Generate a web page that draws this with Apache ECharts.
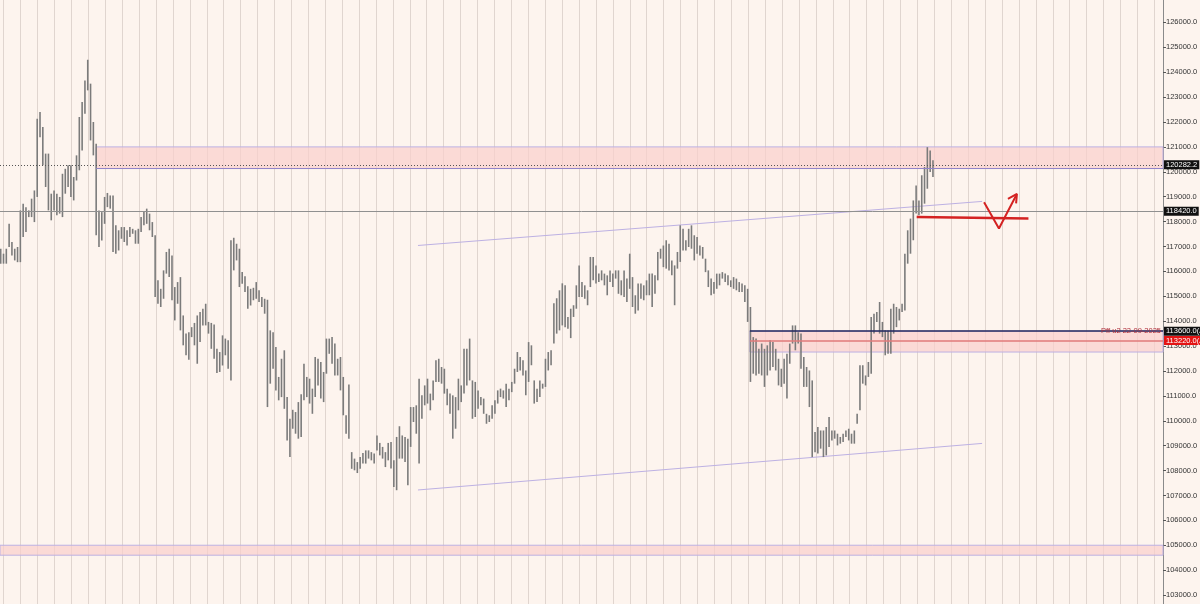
<!DOCTYPE html>
<html><head><meta charset="utf-8">
<script src="https://cdn.jsdelivr.net/npm/echarts@6/dist/echarts.min.js"></script>
<style>html,body{margin:0;padding:0;background:#fdf4ee;}#c{width:1200px;height:604px;}</style>
</head><body><div id="c"></div>
<script>
// ---- data (4h bars, high / low) ----
const HIGH = [
116910,116710,116910,117910,117180,116910,116980,118450,118720,118580,
118450,118920,119250,122130,122400,121800,120730,120730,119120,119250,
119120,118990,119920,120120,120260,120260,119790,120660,122200,122800,
123670,124500,123540,122000,121130,118450,118380,118990,119150,119050,
119050,117850,117650,117780,117780,117650,117780,117710,117650,117710,
118180,118380,118520,118320,117980,117450,115640,115300,116040,116780,
116910,116640,115370,115570,115770,114230,
113500,113560,113760,113930,114230,114370,114500,114700,113970,113930,
113870,112890,112760,113430,113300,113230,117250,117350,117110,116910,
115970,115800,115400,115300,115340,115570,115240,114970,114900,114860,
113630,113560,112960,111760,112490,112830,110950,110080,110440,110350,
110750,111060,112290,111760,111690,111290,112560,112490,112360,111960,
113300,113300,113360,113100,112490,112560,111760,110220,111460,108740,
108480,108340,108540,108700,108810,108810,108740,108680,109410,109110,
108950,108740,
109110,109150,108410,109350,109780,109410,109350,109280,110550,110550,
110620,111690,111020,111420,111690,111090,111620,112430,112490,112160,
112090,111290,111090,111020,110950,111690,111420,112890,112890,113300,
111620,111560,111220,110950,110890,110280,110220,110620,110820,111220,
111290,111220,111490,111290,111560,112090,112760,112560,112430,112020,
113160,113030,111620,111290,111620,111490,112490,112760,112830,114720,
114920,115240,115520,115440,
114170,114500,114640,115440,116240,115570,115440,115240,116580,116580,
116240,115910,116040,115910,115840,116040,115910,116040,116040,115640,
116040,115710,116710,115770,115040,115510,115510,115440,115640,115910,
115910,115840,116780,116910,117040,117250,117110,116440,116240,116780,
117850,117710,117250,117710,117850,117450,117380,117040,116980,116510,
116040,115710,115570,115910,115910,115970,115910,115840,115640,115770,
115710,115570,115510,115440,115300,
114570,113360,113300,112890,113100,112890,113030,113230,113160,112890,
112490,112090,112490,112690,113100,113830,113830,113560,113500,112560,
112160,112020,111620,109550,109750,109610,109610,109750,110150,109610,
109610,109480,109350,109480,109610,109680,109480,109610,110280,112230,
112230,111820,112360,114170,114300,114370,114770,113970,113630,113630,
114500,114700,114570,114500,114700,116710,117650,118120,118850,119450,
118850,119860,120190,120990,120860,120460
];
const LOW = [
116310,116310,116310,116980,116640,116440,116370,116370,117380,117580,
118180,118180,117980,118990,121390,120260,119390,118450,118050,118450,
118250,118320,118180,119120,119390,118990,118850,119650,120060,120860,
122330,123270,121260,120660,117450,116980,117240,117910,118580,118520,
116780,116710,116840,117310,117180,117040,117380,117510,117110,117110,
117580,117850,117910,117650,117380,114970,114700,114570,114900,115910,
115770,114840,114030,114700,113630,113030,
112630,112450,113360,113030,112290,113160,113830,113830,113500,112890,
112490,111920,111960,112220,112630,112090,111620,116040,116440,115370,
115500,115170,114500,114630,114840,114900,114770,114570,114300,110550,
111490,112090,111220,110820,110950,110480,109210,108540,109680,109480,
109280,109350,110820,110950,110690,110280,110950,111420,110890,110750,
111890,112690,112290,111820,111820,111220,110220,109480,109280,108070,
108010,107900,108070,108280,108280,108480,108410,108280,108810,108610,
108480,108140,
108410,108080,107340,107210,108480,108480,108340,107410,108950,109950,
109480,108280,110080,110620,110690,110420,110820,111560,111560,111490,
111090,110620,110280,109280,109680,110420,110750,111090,111420,111620,
110080,110150,110480,110620,110280,109880,109950,110080,110280,110690,
110950,110890,110550,110820,111150,111490,111960,112020,111820,111020,
111560,112230,110690,110750,110950,111290,111360,112020,112230,113100,
113500,113630,113830,113760,
113700,113320,114170,114500,114970,114970,114900,114640,115370,115640,
115510,115570,115640,115440,115040,115570,115370,115710,115100,115040,
114970,114770,115300,114570,114300,114430,114900,114840,115040,115040,
114570,115100,115640,116510,116170,116110,116040,115840,114640,116110,
116380,116840,116840,116980,116910,116440,116710,116640,116510,115970,
115370,115040,115100,115300,115440,115710,115570,115440,115370,115300,
115240,115170,115170,114770,113970,
111560,111890,111820,111890,111820,111360,111820,112020,112160,112020,
111420,111360,111490,110890,112290,113100,112830,113100,112090,111360,
111360,110550,108540,108740,108680,108880,108540,108610,108950,109210,
109280,109010,109080,109150,109350,109210,109080,109080,109880,110420,
111490,111420,111760,111890,113500,113970,113500,113360,112630,112690,
112690,113500,113760,114030,114370,114430,116310,116710,117250,118320,
118250,118320,118720,119320,119990,119790
];
// price levels
const LAST_PRICE = 120282.2;
const LEVEL_GRAY = 118420.0;
const LEVEL_A1 = 113600.0, LEVEL_A2 = 113220.0;
const ZONE_TOP = [121000, 120130];
const ZONE_MID = [113600, 112760];
const ZONE_LOW = [105000, 104600];
const ZONE_TOP_START = 34, ZONE_MID_START = 266.8;
const MID_NOTE = 'Pff u2 22-09-2025';
// drawn lines [barIndex, price]
const TREND_UP = [[148.6,117040],[349.5,118810]];
const TREND_DN = [[148.6,107220],[349.5,109090]];
const RED_LEVEL = [[326.2,118180],[366.0,118120]];
const RED_V = [[350.2,118780],[355.5,117720],[361.6,119050]];
const RED_HEAD = [[358.7,118910],[361.9,119110],[361.6,118730]];
const Y_TICK_VALUES = [103000,104000,105000,106000,107000,108000,109000,110000,111000,112000,
  113000,114000,115000,116000,117000,118000,119000,120000,121000,122000,123000,124000,125000,126000];
const DAY_LINES = [];
for (let d = -2; d <= 66; d++) DAY_LINES.push(d);

// ---- axes extents ----
const Y_MIN = 102640, Y_MAX = 126900;
const X_MIN = -0.249, X_MAX = 413.92;
const D_MIN = -2.2045, D_MAX = 66.53;

const bars = HIGH.map((h,i)=>[i,h,LOW[i]]);
const chart = echarts.init(document.getElementById('c'));
const boxLabel = (txt,bg)=>({show:true,position:'end',distance:1,formatter:txt,
  backgroundColor:bg,color:'#fff',fontSize:7.5,fontFamily:'Liberation Sans',padding:[1,2,0,2]});
const lavender = '#bdb1e3';
const hiddenAxis = {show:false,splitLine:{show:false},axisLine:{show:false},axisTick:{show:false},axisLabel:{show:false}};
chart.setOption({
  backgroundColor:'#fdf4ee',
  animation:false,
  grid:{left:0,right:37,top:0,bottom:0,outerBoundsMode:'none',containLabel:false},
  xAxis:[
    Object.assign({type:'value',min:X_MIN,max:X_MAX},hiddenAxis),
    Object.assign({type:'value',min:D_MIN,max:D_MAX},hiddenAxis)
  ],
  yAxis:{type:'value',position:'right',min:Y_MIN,max:Y_MAX,
    splitLine:{show:false},
    axisLine:{show:true,onZero:false,lineStyle:{color:'#8a8a8a',width:1}},
    axisTick:{show:true,length:3,customValues:Y_TICK_VALUES,lineStyle:{color:'#555'}},
    axisLabel:{customValues:Y_TICK_VALUES,formatter:v=>v.toFixed(1),fontSize:7.5,color:'#333',margin:3,fontFamily:'Liberation Sans'}},
  series:[
    {type:'custom',xAxisIndex:1,data:DAY_LINES.map(d=>[d]),encode:{x:0},silent:true,z:0,
     renderItem:(params,api)=>{
       const a=api.coord([api.value(0),Y_MAX]), b=api.coord([api.value(0),Y_MIN]);
       const x=Math.round(a[0])+0.5;
       return {type:'line',shape:{x1:x,y1:a[1],x2:x,y2:b[1]},style:{stroke:'#e0d5cf',lineWidth:1}};
     }},
    {type:'line',data:TREND_DN,symbol:'none',z:1,silent:true,
     lineStyle:{color:lavender,width:1},
     markArea:{silent:true,itemStyle:{color:'rgba(250,206,204,0.7)',borderColor:lavender,borderWidth:1},
       data:[
         [{coord:[ZONE_TOP_START,ZONE_TOP[0]]},{coord:[X_MAX,ZONE_TOP[1]]}],
         [{coord:[ZONE_MID_START,ZONE_MID[0]]},{coord:[X_MAX,ZONE_MID[1]]}],
         [{coord:[X_MIN,ZONE_LOW[0]]},{coord:[X_MAX,ZONE_LOW[1]]}]
       ]}},
    {type:'line',data:TREND_UP,symbol:'none',z:1,silent:true,lineStyle:{color:lavender,width:1}},
    {type:'custom',z:3,silent:true,data:bars,encode:{x:0,y:[1,2]},
     renderItem:(params,api)=>{
       const a=api.coord([api.value(0),api.value(1)]), b=api.coord([api.value(0),api.value(2)]);
       return {type:'line',shape:{x1:a[0],y1:a[1],x2:b[0],y2:b[1]},style:{stroke:'#7b7b7b',lineWidth:1.6}};
     },
     markLine:{silent:true,symbol:'none',animation:false,
       data:[
         [{coord:[ZONE_TOP_START,ZONE_TOP[1]],lineStyle:{color:'#9284c9',width:1,type:'solid'},label:{show:false}},{coord:[X_MAX,ZONE_TOP[1]]}],
         {yAxis:LAST_PRICE,lineStyle:{color:'#555',width:1,type:[1,2]},label:boxLabel(LAST_PRICE.toFixed(1),'#111')},
         {yAxis:LEVEL_GRAY,lineStyle:{color:'#909090',width:1,type:'solid'},label:boxLabel(LEVEL_GRAY.toFixed(1),'#111')},
         [{coord:[ZONE_MID_START,LEVEL_A2],lineStyle:{color:'#e07a7a',width:1.5,type:'solid'},label:boxLabel(LEVEL_A2.toFixed(1)+'(A)','#e41414')},{coord:[X_MAX,LEVEL_A2]}],
         [{coord:[ZONE_MID_START,LEVEL_A1],lineStyle:{color:'#23285c',width:1.5,type:'solid'},label:boxLabel(LEVEL_A1.toFixed(1)+'(A)','#111')},{coord:[X_MAX,LEVEL_A1]}],
         [{coord:[ZONE_MID_START,LEVEL_A1],lineStyle:{color:'rgba(0,0,0,0)',width:0},label:{show:true,position:'insideEnd',formatter:MID_NOTE,color:'#b0303c',fontSize:7.5,fontFamily:'Liberation Sans',distance:2}},{coord:[X_MAX,LEVEL_A1]}]
       ]}},
    {type:'line',data:RED_LEVEL,symbol:'none',z:10,silent:true,lineStyle:{color:'#d42222',width:2.5}},
    {type:'line',data:RED_V,symbol:'none',z:10,silent:true,lineStyle:{color:'#d42222',width:2}},
    {type:'line',data:RED_HEAD,symbol:'none',z:10,silent:true,lineStyle:{color:'#d42222',width:2}}
  ]
});
</script></body></html>
